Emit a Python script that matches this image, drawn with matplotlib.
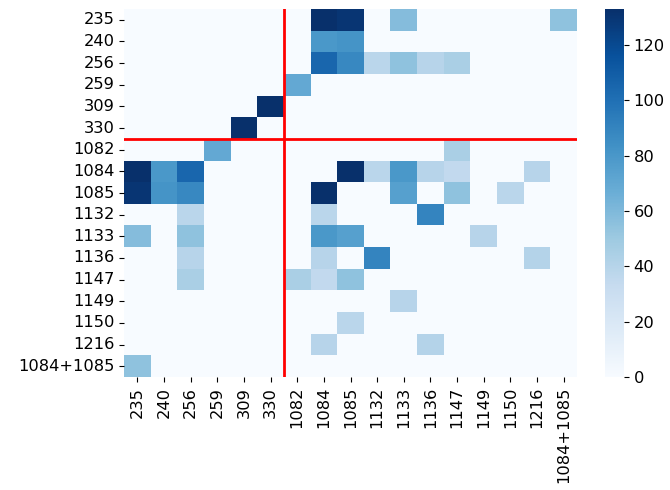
import numpy as np
import matplotlib
matplotlib.use("Agg")
import matplotlib.pyplot as plt
import seaborn as sns

labels = ["235", "240", "256", "259", "309", "330", "1082", "1084", "1085",
          "1132", "1133", "1136", "1147", "1149", "1150", "1216", "1084+1085"]

# pair counts (row, column, value); matrix is filled symmetrically below
pairs = [
    ("235", "1084", 133), ("235", "1085", 130), ("235", "1133", 58),
    ("235", "1084+1085", 55),
    ("240", "1084", 80), ("240", "1085", 82),
    ("256", "1084", 105), ("256", "1085", 88), ("256", "1132", 38),
    ("256", "1133", 55), ("256", "1136", 40), ("256", "1147", 45),
    ("259", "1082", 70),
    ("309", "330", 133),
    ("1082", "1147", 45),
    ("1084", "1085", 133), ("1084", "1132", 38), ("1084", "1133", 80),
    ("1084", "1136", 40), ("1084", "1147", 35), ("1084", "1216", 40),
    ("1085", "1133", 75), ("1085", "1147", 55), ("1085", "1150", 38),
    ("1132", "1136", 90),
    ("1133", "1149", 40),
    ("1136", "1216", 41),
]

idx = {k: i for i, k in enumerate(labels)}
mat = np.zeros((len(labels), len(labels)))
for a, b, v in pairs:
    mat[idx[a], idx[b]] = v
    mat[idx[b], idx[a]] = v

plt.rcParams["font.size"] = 11.7

fig = plt.figure(figsize=(6.7, 4.9), dpi=100)
ax = fig.add_axes([124 / 670, 1 - 377 / 490, 453 / 670, 368 / 490])
cax = fig.add_axes([605 / 670, 1 - 377 / 490, 19 / 670, 368 / 490])
sns.heatmap(mat, cmap="Blues", xticklabels=labels, yticklabels=labels,
            ax=ax, cbar_ax=cax)
ax.axvline(6, color="red", lw=2)
ax.axhline(6, color="red", lw=2)
ax.tick_params(axis="x", rotation=90)
ax.tick_params(axis="y", rotation=0)
fig.savefig("out.png")
